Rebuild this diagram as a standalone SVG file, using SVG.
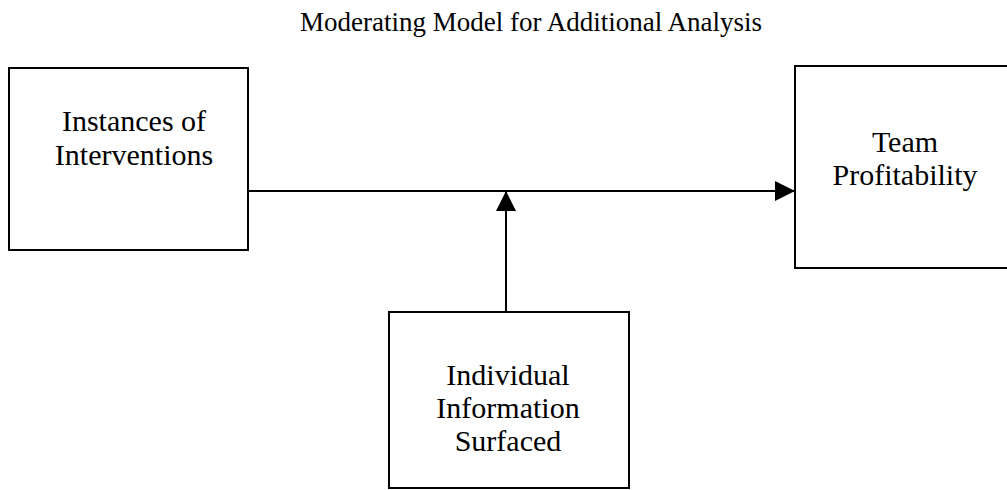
<svg xmlns="http://www.w3.org/2000/svg" width="1007" height="490" viewBox="0 0 1007 490">
<style>
.box{fill:#fff;stroke:#000;stroke-width:2}
.t{font-family:"Liberation Serif","Times New Roman",serif;font-size:30px;fill:#000;text-anchor:middle}
.title{font-size:27px}
.c{stroke:#000;stroke-width:2;fill:none}
</style>
<defs>
<marker id="arr" markerWidth="20" markerHeight="20" refX="20" refY="10" orient="auto" markerUnits="userSpaceOnUse">
<path d="M0,0 L20,10 L0,20 Z" fill="#000"/>
</marker>
</defs>
<rect width="1007" height="490" fill="#fff"/>
<text class="t title" x="531" y="31">Moderating Model for Additional Analysis</text>
<g id="node-instances">
<rect class="box" x="9" y="68" width="239" height="182"/>
<text class="t" x="134" y="131">Instances of</text>
<text class="t" x="134" y="165">Interventions</text>
</g>
<g id="node-profitability">
<rect class="box" x="795" y="66" width="220" height="202"/>
<text class="t" x="905" y="152">Team</text>
<text class="t" x="905" y="185">Profitability</text>
</g>
<g id="node-information">
<rect class="box" x="389" y="312" width="240" height="176"/>
<text class="t" x="508" y="385">Individual</text>
<text class="t" x="508" y="418">Information</text>
<text class="t" x="508" y="451">Surfaced</text>
</g>
<g id="connectors">
<line class="c" x1="248" y1="191" x2="795" y2="191" marker-end="url(#arr)"/>
<line class="c" x1="506" y1="312" x2="506" y2="191" marker-end="url(#arr)"/>
</g>
</svg>
